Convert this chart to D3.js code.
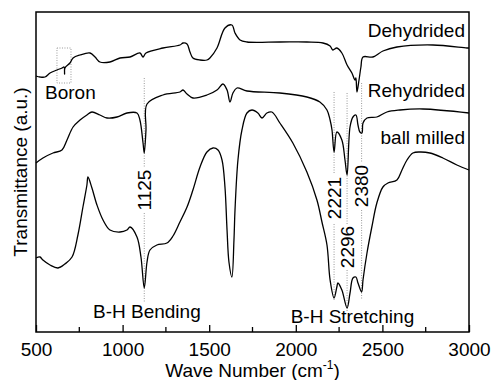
<!DOCTYPE html>
<html>
<head>
<meta charset="utf-8">
<script src="https://cdn.jsdelivr.net/npm/d3@7"></script>
<style>
  html, body { margin: 0; padding: 0; background: #fff; }
  svg { display: block; }
  text { font-family: "Liberation Sans", Arial, Helvetica, sans-serif; fill: #000; }
</style>
</head>
<body>
<svg id="chart" width="492" height="380"></svg>
<script>
// FTIR spectra: wavenumber (cm^-1) and transmittance (arbitrary units, offset per trace)
const dehydridedWave = [500,523,552,581,621,650,662,665,667,696,714,754,812,841,869,927,985,1043,1100,1118,1135,1233,1331,1349,1372,1389,1406,1447,1487,1504,1545,1591,1631,1649,1678,1718,1908,2064,2157,2198,2214,2237,2266,2296,2324,2342,2347,2353,2365,2376,2388,2445,2503,2584,2792,2988,3000];
const dehydridedT    = [256,255,255,259,262,264,265,258,264,269,274,277,279,275,270,270,274,275,279,275,279,284,287,289,288,280,274,272,272,274,284,304,307,299,292,290,290,290,289,286,282,284,279,267,259,252,254,240,252,265,275,275,281,285,287,284,284];

const rehydridedWave = [500,540,598,650,679,714,754,794,823,869,910,968,1025,1083,1100,1118,1125,1135,1141,1233,1331,1349,1372,1406,1487,1545,1579,1603,1620,1637,1660,1718,1908,2064,2139,2180,2198,2209,2221,2237,2266,2284,2296,2313,2330,2347,2359,2370,2382,2388,2411,2468,2526,2601,2734,3000];
const rehydridedT    = [169,174,179,182,192,205,212,217,220,217,214,215,219,219,212,189,179,202,228,237,240,242,238,234,237,242,248,242,230,239,244,241,239,235,230,222,212,202,180,200,192,172,157,205,215,217,207,200,199,209,214,215,220,222,223,219];

const ballMilledWave = [500,523,540,581,627,667,708,742,771,794,800,823,852,887,927,985,1025,1043,1083,1106,1125,1141,1158,1198,1256,1291,1331,1372,1406,1447,1487,1522,1551,1574,1591,1603,1614,1631,1643,1649,1666,1689,1718,1747,1781,1805,1833,1862,1908,1983,2064,2122,2151,2180,2198,2221,2237,2243,2266,2296,2313,2330,2347,2359,2380,2388,2411,2439,2468,2503,2532,2584,2613,2642,2676,2717,2774,2849,2930,3000];
const ballMilledT    = [74,75,72,67,64,68,75,97,125,147,155,144,127,112,102,100,102,105,95,75,44,70,82,87,89,96,110,125,142,165,180,184,182,172,145,102,70,55,92,122,172,202,219,222,219,214,219,220,209,189,160,132,110,87,52,34,45,49,42,24,39,54,55,49,40,52,79,105,129,145,149,152,162,172,179,180,179,174,167,162];

const seriesNames  = ["Dehydrided", "Rehydrided", "ball milled"];
const peakWaves    = [1125, 2221, 2296, 2380];
const peakLabels   = ["1125", "2221", "2296", "2380"];
const bandLabels   = ["B-H Bending", "B-H Stretching", "Boron"];
const xTickValues  = [500, 1000, 1500, 2000, 2500, 3000];
const xMinorValues = [750, 1250, 1750, 2250, 2750];

const FONT = 19;
const svg = d3.select("#chart");
const plot = { left: 36, top: 12, right: 469, bottom: 332 };

const x = d3.scaleLinear().domain([500, 3000]).range([plot.left, plot.right]);
const y = d3.scaleLinear().domain([0, 320]).range([plot.bottom, plot.top]);

const series = [
  { name: seriesNames[0], wave: dehydridedWave, t: dehydridedT },
  { name: seriesNames[1], wave: rehydridedWave, t: rehydridedT },
  { name: seriesNames[2], wave: ballMilledWave, t: ballMilledT }
];

const line = d3.line()
  .x(d => x(d[0]))
  .y(d => y(d[1]))
  .curve(d3.curveCatmullRom.alpha(0.5));

// dotted guide lines at the assigned B-H modes (segments break around the labels)
const guideSegments = [
  [[254, 164], [119, 29]],
  [[240, 159], [108, 32]],
  [[239, 107], [62, 20]],
  [[249, 169], [122, 32]]
];
peakWaves.forEach((w, i) => {
  guideSegments[i].forEach(seg => {
    svg.append("line")
      .attr("x1", x(w)).attr("x2", x(w))
      .attr("y1", y(seg[0])).attr("y2", y(seg[1]))
      .attr("stroke", "#999").attr("stroke-width", 1)
      .attr("stroke-dasharray", "1,1.5");
  });
});

// boron region marker
svg.append("rect")
  .attr("x", x(621)).attr("y", y(284))
  .attr("width", x(702) - x(621)).attr("height", y(249) - y(284))
  .attr("fill", "none").attr("stroke", "#999").attr("stroke-width", 1)
  .attr("stroke-dasharray", "1,1.5");

// spectra
series.forEach(s => {
  svg.append("path")
    .datum(s.wave.map((w, i) => [w, s.t[i]]))
    .attr("d", line)
    .attr("fill", "none")
    .attr("stroke", "#000")
    .attr("stroke-width", 1.3)
    .attr("stroke-linejoin", "round");
});

// frame
svg.append("rect")
  .attr("x", plot.left).attr("y", plot.top)
  .attr("width", plot.right - plot.left).attr("height", plot.bottom - plot.top)
  .attr("fill", "none").attr("stroke", "#000").attr("stroke-width", 1.5);

// bottom axis, ticks pointing inward
const xAxis = d3.axisBottom(x).tickValues(xTickValues).tickFormat(d3.format("d"))
  .tickSizeInner(-7).tickSizeOuter(0).tickPadding(11);
const gx = svg.append("g").attr("transform", `translate(0,${plot.bottom})`).call(xAxis);
gx.select(".domain").remove();
gx.selectAll(".tick line").attr("stroke", "#000").attr("stroke-width", 1.3);
gx.selectAll(".tick text").attr("font-size", FONT).attr("font-family", "Liberation Sans, Arial, sans-serif").attr("fill", "#000");
svg.append("g").selectAll("line").data(xMinorValues).join("line")
  .attr("x1", d => x(d)).attr("x2", d => x(d))
  .attr("y1", plot.bottom).attr("y2", plot.bottom - 5)
  .attr("stroke", "#000").attr("stroke-width", 1.3);

// axis titles
const xTitle = svg.append("text")
  .attr("x", (plot.left + plot.right) / 2).attr("y", 377)
  .attr("text-anchor", "middle").attr("font-size", FONT);
xTitle.append("tspan").text("Wave Number (cm");
xTitle.append("tspan").attr("font-size", 12).attr("dy", -8).text("-1");
xTitle.append("tspan").attr("dy", 8).text(")");

svg.append("text")
  .attr("transform", `translate(27,${(plot.top + plot.bottom) / 2}) rotate(-90)`)
  .attr("text-anchor", "middle").attr("font-size", FONT)
  .text("Transmittance (a.u.)");

// trace names
const nameY = [37, 97, 144];
series.forEach((s, i) => {
  svg.append("text")
    .attr("x", 465).attr("y", nameY[i])
    .attr("text-anchor", "end").attr("font-size", FONT)
    .text(s.name);
});

// peak position labels
const peakLabelCenter = [190, 198, 247, 186];
peakWaves.forEach((w, i) => {
  svg.append("text")
    .attr("transform", `translate(${x(w)},${peakLabelCenter[i]}) rotate(-90)`)
    .attr("text-anchor", "middle").attr("dominant-baseline", "central")
    .attr("font-size", FONT)
    .text(peakLabels[i]);
});

// band labels
svg.append("text").attr("x", x(1140)).attr("y", 318).attr("text-anchor", "middle").attr("font-size", FONT).text(bandLabels[0]);
svg.append("text").attr("x", x(2327)).attr("y", 323).attr("text-anchor", "middle").attr("font-size", FONT).text(bandLabels[1]);
svg.append("text").attr("x", 45).attr("y", 99).attr("font-size", FONT).text(bandLabels[2]);
</script>
</body>
</html>
